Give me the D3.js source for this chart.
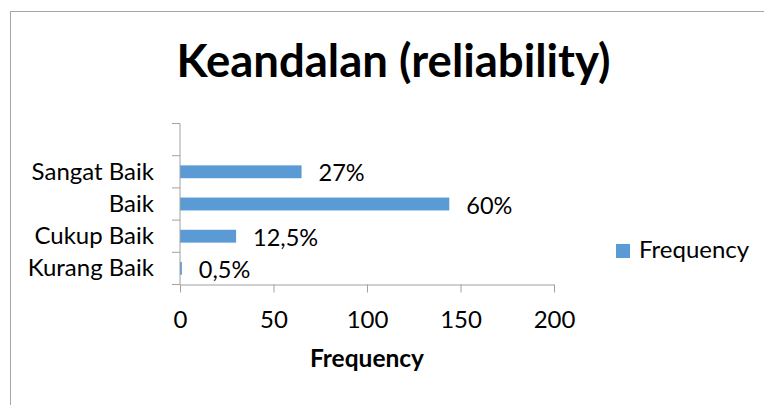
<!DOCTYPE html>
<html>
<head>
<meta charset="utf-8">
<script src="https://cdn.jsdelivr.net/npm/d3@7"></script>
<style>
  html, body { margin: 0; padding: 0; background: #fff; }
  svg { display: block; }
  text { font-family: Lato, "Open Sans", sans-serif; fill: #000; }
</style>
</head>
<body>
<svg id="chart" width="764" height="405"></svg>
<script>
// ---- data ----
const categories = ["Kurang Baik", "Cukup Baik", "Baik", "Sangat Baik", ""];
const frequency = [1, 30, 144, 65, null];
const percentLabels = ["0,5%", "12,5%", "60%", "27%", ""];
const xTicks = [0, 50, 100, 150, 200];
const seriesName = "Frequency";
const chartTitle = "Keandalan (reliability)";
const xAxisTitle = "Frequency";

// ---- layout ----
const svg = d3.select("#chart");
const plot = { left: 180, right: 554, top: 123.5, bottom: 284.5 };
const barColor = "#5b9bd5";
const axisColor = "#a0a0a0";

// chart area border
svg.append("rect")
  .attr("x", 10.5).attr("y", 11.5)
  .attr("width", 800).attr("height", 450)
  .attr("fill", "none").attr("stroke", "#a6a6a6").attr("stroke-width", 1);

const x = d3.scaleLinear().domain([0, 200]).range([plot.left, plot.right]);
const y = d3.scaleBand().domain(categories)
  .range([plot.bottom, plot.top]).paddingInner(0.6).paddingOuter(0.3);

// title
svg.append("text")
  .attr("x", 393.5).attr("y", 77)
  .attr("text-anchor", "middle")
  .style("font-size", "45.5px").style("font-weight", "bold")
  .text(chartTitle);

// bars
const rows = categories.map((c, i) => ({ c, v: frequency[i], lab: percentLabels[i] }))
  .filter(d => d.v != null);

svg.append("g").selectAll("rect").data(rows).join("rect")
  .attr("x", x(0))
  .attr("y", d => y(d.c))
  .attr("width", d => x(d.v) - x(0))
  .attr("height", y.bandwidth())
  .attr("fill", barColor);

// value labels
svg.append("g").selectAll("text").data(rows).join("text")
  .attr("x", d => x(d.v) + 17)
  .attr("y", d => y(d.c) + y.bandwidth() / 2 + 9.5)
  .style("font-size", "23.5px")
  .text(d => d.lab);

// x axis
const xAxis = d3.axisBottom(x).tickValues(xTicks).tickSize(8).tickSizeOuter(0).tickPadding(10);
const gx = svg.append("g").attr("transform", `translate(0,${plot.bottom})`).call(xAxis);
gx.select(".domain").attr("stroke", axisColor);
gx.selectAll(".tick line").attr("stroke", axisColor);
gx.selectAll(".tick text").style("font-size", "24px").attr("fill", "#000")
  .style("font-family", "Lato, sans-serif").attr("dy", null).attr("y", 43.5);

// y axis line + ticks at category boundaries
const boundaries = d3.range(categories.length + 1).map(i => plot.bottom - i * (plot.bottom - plot.top) / categories.length);
svg.append("line")
  .attr("x1", plot.left).attr("x2", plot.left)
  .attr("y1", plot.top).attr("y2", plot.bottom)
  .attr("stroke", axisColor);
svg.append("g").selectAll("line").data(boundaries).join("line")
  .attr("x1", plot.left - 8).attr("x2", plot.left)
  .attr("y1", d => d).attr("y2", d => d)
  .attr("stroke", axisColor);

// category labels
svg.append("g").selectAll("text").data(categories).join("text")
  .attr("x", 154)
  .attr("y", d => y(d) + y.bandwidth() / 2 + 8)
  .attr("text-anchor", "end")
  .style("font-size", "24px")
  .text(d => d);

// x axis title
svg.append("text")
  .attr("x", (plot.left + plot.right) / 2).attr("y", 367)
  .attr("text-anchor", "middle")
  .style("font-size", "24.5px").style("font-weight", "bold")
  .text(xAxisTitle);

// legend
svg.append("rect")
  .attr("x", 616).attr("y", 244).attr("width", 14).attr("height", 14)
  .attr("fill", barColor);
svg.append("text")
  .attr("x", 639).attr("y", 258)
  .style("font-size", "24px")
  .text(seriesName);
</script>
</body>
</html>
